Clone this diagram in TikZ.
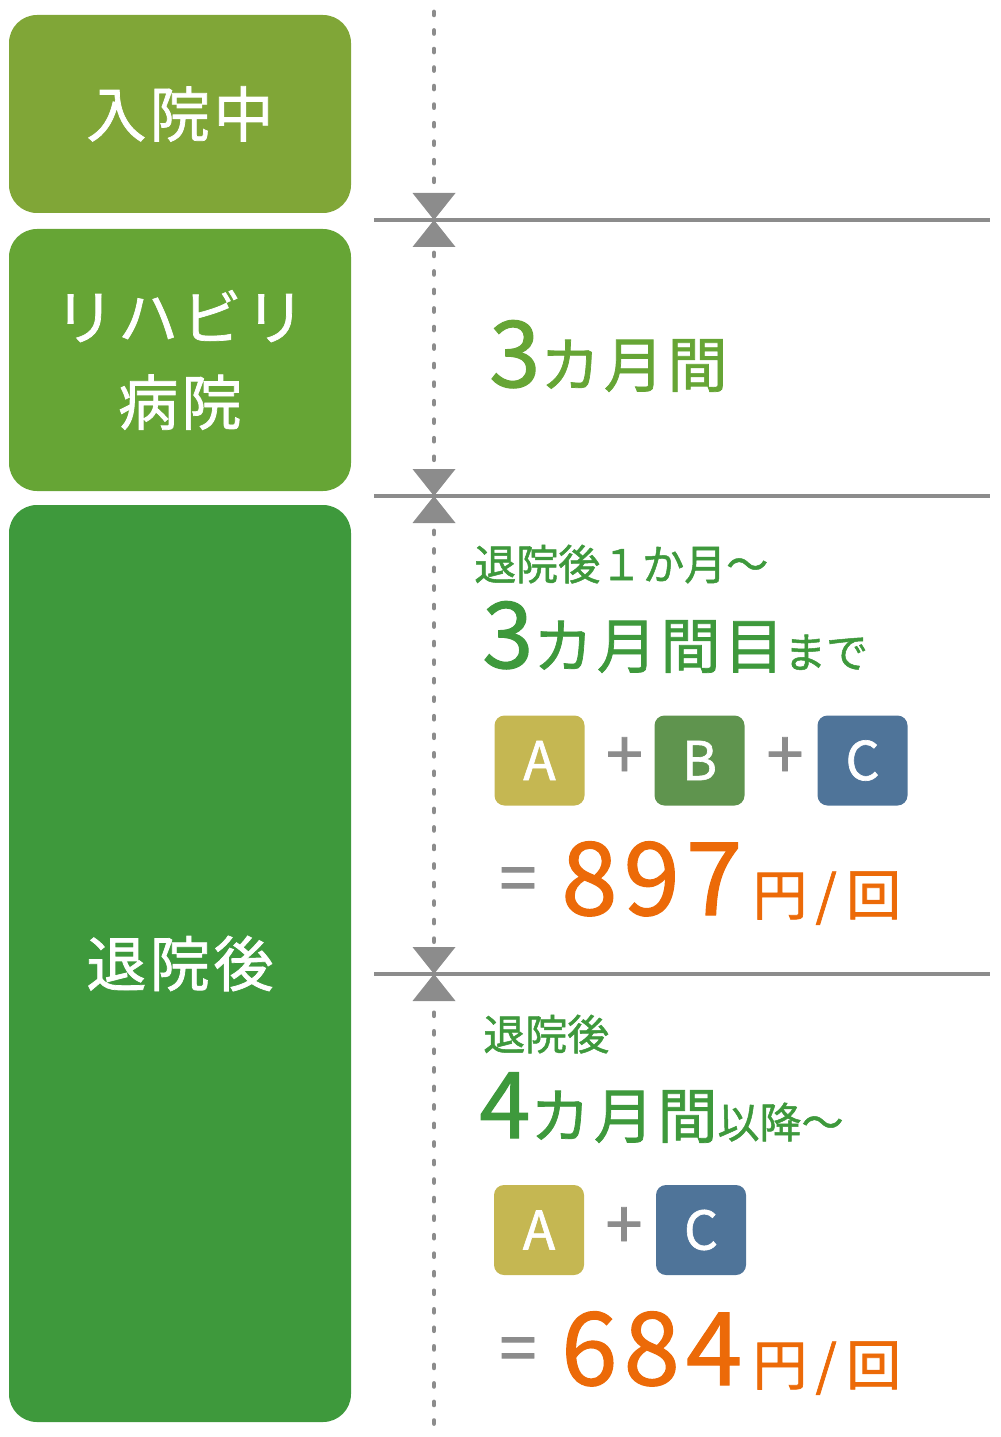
\documentclass[tikz,border=0pt]{standalone}
\usepackage{fontspec}
\setmainfont{Noto Sans CJK JP}[FakeBold=1.2]
\usetikzlibrary{positioning}

\definecolor{stayclr}{HTML}{80A637}
\definecolor{rehabclr}{HTML}{66A535}
\definecolor{homeclr}{HTML}{3E993C}
\definecolor{guideclr}{HTML}{8C8C8C}
\definecolor{priceclr}{HTML}{EC6A08}
\definecolor{partaclr}{HTML}{C5B752}
\definecolor{partbclr}{HTML}{5F944E}
\definecolor{partcclr}{HTML}{4F7499}

\newcommand{\bignum}{\fontsize{69}{69}\selectfont\addfontfeature{LetterSpace=3}}
\newcommand{\midjp}{\fontsize{45}{45}\selectfont\addfontfeature{LetterSpace=6}}
\newcommand{\smalljp}{\fontsize{31.5}{31.5}\selectfont\addfontfeature{LetterSpace=0}}
\newcommand{\pricenum}{\fontsize{76}{76}\selectfont\addfontfeature{LetterSpace=6}}
\newcommand{\unitjp}{\fontsize{41}{41}\selectfont\addfontfeature{LetterSpace=0}}
\newcommand{\perunit}{\unitjp\hspace{8pt}円\hspace{6pt}/\hspace{7pt}回}

\begin{document}
\begin{tikzpicture}[x=0.75pt,y=-0.75pt,
    stage/.style={fill=#1, rounded corners=21pt, text=white, inner sep=0pt,
        minimum width=256.5pt, align=center,
        font=\fontsize{45}{64}\selectfont\addfontfeature{LetterSpace=6}},
    part/.style={fill=#1, rounded corners=7.5pt, text=white, inner sep=0pt,
        minimum size=67.5pt, font=\fontsize{40}{40}\selectfont},
    plus/.style={text=guideclr, inner sep=0pt, font=\fontsize{50}{50}\selectfont},
    line/.style={anchor=base west, inner sep=0pt, text=#1},
    guide/.style={guideclr, line width=3pt},
    dotline/.style={guideclr, line width=3.6pt, line cap=round, dash pattern=on 2.2pt off 11.7pt},
    bowtie/.style={fill=guideclr}]

    \useasboundingbox (0,0) rectangle (1000,1437);

    % stages on the left
    \node[stage=stayclr, minimum height=148.5pt] (stay) at (180,114) {入院中};
    \node[stage=rehabclr, minimum height=196.5pt] (rehab) at (180,360) {リハビリ\\病院};
    \node[stage=homeclr, minimum height=687.75pt] (home) at (180,963.5) {退院後};

    % time axis
    \coordinate (axistop) at (434,12);
    \coordinate (axisend) at (434,1425);
    \draw[dotline] (axistop) -- (axisend);

    \foreach \y [count=\i] in {220,496,974} {
        \coordinate (cut\i) at (434,\y);
        \coordinate (cutend\i) at (990,\y);
        \draw[guide] (374,\y) -- (cutend\i);
        \fill[bowtie] (cut\i) -- ++(-21.5,-27) -- ++(43,0) -- cycle;
        \fill[bowtie] (cut\i) -- ++(-21.5,27) -- ++(43,0) -- cycle;
    }

    % rehab period
    \node[line=rehabclr] (rehabspan) at (489,387) {\bignum 3\midjp カ月間};

    % first months at home
    \node[line=homeclr] (firstlead) at (474,580) {\smalljp 退院後１か月〜};
    \node[line=homeclr] (firstspan) at (482,668) {\bignum 3\midjp カ月間目\smalljp まで};

    \node[part=partaclr] (firsta) at (539.5,760.5) {A};
    \node[plus] (firstplusa) at (624.5,758) {+};
    \node[part=partbclr] (firstb) at (699.5,760.5) {B};
    \node[plus] (firstplusb) at (785,758) {+};
    \node[part=partcclr] (firstc) at (862.5,760.5) {C};

    \node[plus] (firsteq) at (518,885) {=};
    \node[line=priceclr] (firstcost) at (561,915) {\pricenum 897\perunit};

    % later months at home
    \node[line=homeclr] (laterlead) at (483,1050) {\smalljp 退院後};
    \node[line=homeclr] (laterspan) at (479,1138) {\bignum 4\midjp カ月間\smalljp 以降〜};

    \node[part=partaclr] (latera) at (539,1230) {A};
    \node[plus] (laterplus) at (624,1228) {+};
    \node[part=partcclr] (laterc) at (701,1230) {C};

    \node[plus] (latereq) at (518,1355) {=};
    \node[line=priceclr] (latercost) at (561,1385) {\pricenum 684\perunit};

\end{tikzpicture}
\end{document}
